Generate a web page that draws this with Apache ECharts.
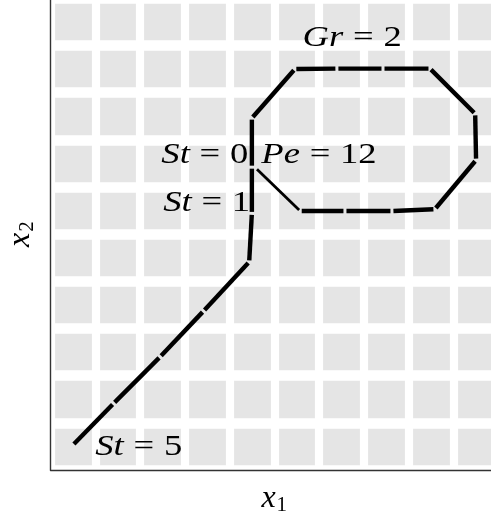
<!DOCTYPE html>
<html>
<head>
<meta charset="utf-8">
<script src="https://cdn.jsdelivr.net/npm/echarts@6/dist/echarts.min.js"></script>
<style>
  html, body { margin: 0; padding: 0; background: #ffffff; }
  #chart { width: 491px; height: 516px; }
</style>
</head>
<body>
<div id="chart"></div>
<script>
// Trajectory vertices in the (x1, x2) plane
const pathX = [0.50, 1.41, 2.45, 3.42, 4.44, 4.50, 4.50, 4.50, 5.46, 6.40, 7.43, 8.48, 9.49, 9.51, 8.59, 7.63, 6.58, 5.58, 4.59];
const pathY = [0.53, 1.41, 2.40, 3.37, 4.41, 5.44, 6.42, 7.46, 8.50, 8.51, 8.51, 8.51, 7.55, 6.57, 5.53, 5.49, 5.49, 5.49, 6.40];

// Annotations: symbol, value, anchor point
const noteName  = ['St', 'Pe', 'St', 'St', 'Gr'];
const noteValue = ['0', '12', '1', '5', '2'];
const noteX     = [4.42, 4.71, 4.46, 1.00, 6.74];
const noteY     = [6.67, 6.67, 5.65, 0.48, 9.16];
const noteSide  = ['right', 'left', 'right', 'left', 'center'];

// Axis extent (grid lines every unit)
const axisMin = 0, axisMax = 10, axisStep = 1;

const segments = [];
for (let i = 0; i < pathX.length - 1; i++) {
  segments.push([pathX[i], pathY[i], pathX[i + 1], pathY[i + 1]]);
}
const notes = noteName.map((n, i) => [noteX[i], noteY[i], i]);

const SERIF = '"Liberation Serif", "DejaVu Serif", serif';
const STRETCH = 1.22;

function renderSegment(params, api) {
  const a = api.coord([api.value(0), api.value(1)]);
  const b = api.coord([api.value(2), api.value(3)]);
  const dx = b[0] - a[0], dy = b[1] - a[1];
  const len = Math.hypot(dx, dy) || 1;
  const ux = dx / len, uy = dy / len;
  const gap = 1.5;
  const thin = params.dataIndex === segments.length - 1;
  return {
    type: 'line',
    shape: {
      x1: a[0] + ux * gap, y1: a[1] + uy * gap,
      x2: b[0] - ux * gap, y2: b[1] - uy * gap
    },
    style: { stroke: '#000000', lineWidth: thin ? 2.8 : 4.4, lineCap: 'butt' }
  };
}

function renderNote(params, api) {
  const p = api.coord([api.value(0), api.value(1)]);
  const k = api.value(2);
  return {
    type: 'text',
    x: p[0], y: p[1],
    scaleX: STRETCH,
    style: {
      text: '{i|' + noteName[k] + '}{e|=}{n|' + noteValue[k] + '}',
      align: noteSide[k],
      verticalAlign: 'middle',
      fill: '#000000',
      rich: {
        i: { fontFamily: SERIF, fontStyle: 'italic', fontSize: 30, fill: '#000' },
        e: { fontFamily: SERIF, fontSize: 30, fill: '#000', padding: [0, 8, 0, 8] },
        n: { fontFamily: SERIF, fontSize: 30, fill: '#000' }
      }
    }
  };
}

const chart = echarts.init(document.getElementById('chart'), null, { renderer: 'canvas' });

const nameRich = {
  v: { fontFamily: SERIF, fontStyle: 'italic', fontSize: 32, color: '#000', lineHeight: 34, verticalAlign: 'middle' },
  s: { fontFamily: SERIF, fontSize: 21, color: '#000', lineHeight: 21, verticalAlign: 'bottom', padding: [0, 0, 0, 1] }
};

chart.setOption({
  animation: false,
  backgroundColor: '#ffffff',
  grid: {
    left: 50.5, right: -7, top: -1.7, bottom: 46,
    containLabel: false,
    outerBoundsMode: 'none',
    show: true,
    backgroundColor: '#e5e5e5',
    borderWidth: 0
  },
  xAxis: {
    type: 'value', min: axisMin, max: axisMax, interval: axisStep,
    name: '{v|x}{s|1}',
    nameLocation: 'middle', nameGap: 12,
    nameTextStyle: { rich: nameRich },
    axisLine: { show: true, onZero: false, lineStyle: { color: '#333333', width: 1.4 } },
    axisTick: { show: false },
    axisLabel: { show: false },
    splitLine: { show: true, lineStyle: { color: '#ffffff', width: 8.2 } }
  },
  yAxis: {
    type: 'value', min: axisMin, max: axisMax, interval: axisStep,
    name: '{v|x}{s|2}',
    nameLocation: 'middle', nameGap: 13,
    nameTextStyle: { rich: nameRich },
    axisLine: { show: true, onZero: false, lineStyle: { color: '#333333', width: 1.4 } },
    axisTick: { show: false },
    axisLabel: { show: false },
    splitLine: { show: true, lineStyle: { color: '#ffffff', width: 10.6 } }
  },
  series: [
    {
      type: 'custom',
      coordinateSystem: 'cartesian2d',
      renderItem: renderSegment,
      data: segments,
      clip: false,
      z: 3
    },
    {
      type: 'custom',
      coordinateSystem: 'cartesian2d',
      renderItem: renderNote,
      data: notes,
      clip: false,
      z: 4
    }
  ]
});
</script>
</body>
</html>
